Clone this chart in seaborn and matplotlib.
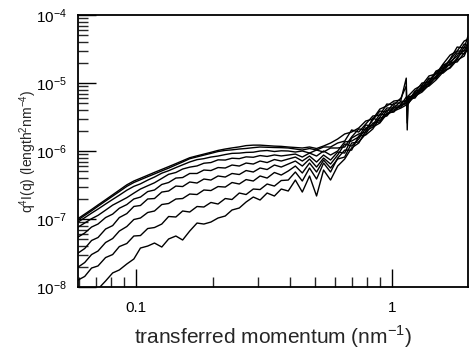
import numpy as np
import pandas as pd
import seaborn as sns
import matplotlib.pyplot as plt
from matplotlib.ticker import LogLocator, NullFormatter

# scattering vector (nm^-1)
q = [0.059, 0.063, 0.067, 0.071, 0.076, 0.081, 0.086, 0.092, 0.098, 0.104,
     0.111, 0.118, 0.126, 0.134, 0.143, 0.152, 0.162, 0.173, 0.184, 0.196,
     0.209, 0.223, 0.237, 0.253, 0.269, 0.287, 0.305, 0.325, 0.347, 0.369,
     0.393, 0.419, 0.446, 0.476, 0.507, 0.540, 0.575, 0.613, 0.653, 0.695,
     0.741, 0.789, 0.841, 0.896, 0.954, 1.016, 1.083, 1.136, 1.146, 1.156,
     1.229, 1.309, 1.394, 1.485, 1.582, 1.686, 1.796, 1.913, 1.980]

# q^4 I(q), in units of 1e-7
c1 = [1.00, 1.18, 1.38, 1.61, 1.92, 2.27, 2.66, 3.18, 3.62, 3.97,
      4.40, 4.85, 5.36, 5.89, 6.52, 7.19, 7.96, 8.49, 9.00, 9.56,
      10.2, 10.7, 11.1, 11.5, 12.0, 12.2, 12.2, 12.0, 11.8, 11.7,
      11.45, 11.26, 11.07, 11.45, 10.88, 11.84, 13.11, 15.01,
      17.8, 19.0, 21.8, 27.6, 29.5, 41.4, 45.9, 54.3, 56.2, 118, 20.4,
      64.3, 81.5, 93.3, 127, 136, 190, 258, 295, 414, 443]
c2 = [0.953, 1.13, 1.32, 1.54, 1.84, 2.17, 2.53, 3.02, 3.44, 3.78,
      4.19, 4.60, 5.10, 5.60, 6.24, 6.90, 7.70, 8.20, 8.70, 9.23,
      9.83, 10.2, 10.4, 10.7, 10.9, 11.2, 11.45, 11.35, 11.25, 11.2,
      11.07, 10.70, 10.34, 10.88, 10.34, 11.45, 11.45, 13.11,
      14.0, 20.4, 19.0, 24.9, 32.7, 33.8, 49.1, 47.5, 60.1, 90.2, 25.8,
      56.2, 73.6, 100, 103, 150, 166, 225, 338, 327, 491]
c3 = [0.89, 1.045, 1.22, 1.40, 1.66, 1.94, 2.24, 2.65, 3.02, 3.29,
      3.73, 4.14, 4.72, 5.13, 5.70, 6.26, 6.90, 7.46, 7.72, 8.15,
      8.43, 8.87, 9.23, 9.30, 9.53, 9.60, 10.0, 10.17, 9.83, 10.07,
      10.0, 9.66, 10.0, 9.33, 10.34, 9.66, 11.07, 11.07,
      11.45, 16.1, 21.1, 20.4, 28.5, 38.7, 37.4, 50.8, 50.8, 56.2, 62.2,
      62.2, 66.5, 87.2, 115, 118, 184, 204, 249, 374, 350]
c4 = [0.752, 0.873, 1.01, 1.13, 1.35, 1.60, 1.80, 2.06, 2.40, 2.76,
      3.08, 3.41, 3.95, 4.54, 4.83, 5.43, 5.79, 6.03, 6.61, 6.76,
      7.41, 7.36, 7.83, 7.72, 8.20, 8.09, 8.57, 8.32, 8.75, 8.46,
      8.72, 9.02, 8.15, 9.33, 8.43, 10.0, 8.72, 10.0,
      13.6, 14.0, 16.1, 24.1, 23.3, 31.6, 42.9, 42.9, 54.3, 52.5, 56.2,
      52.5, 76.2, 78.8, 107, 145, 155, 218, 295, 295, 400]
c5 = [0.536, 0.622, 0.762, 0.843, 1.05, 1.18, 1.44, 1.63, 1.97, 2.10,
      2.53, 2.67, 3.22, 3.44, 4.00, 4.07, 4.67, 4.67, 5.25, 5.16,
      5.71, 5.62, 6.22, 6.01, 6.65, 6.43, 7.12, 6.76, 7.49, 7.12,
      7.62, 8.15, 7.12, 8.43, 6.88, 8.72, 7.36, 9.66,
      9.33, 15.5, 17.8, 19.0, 30.5, 27.6, 40.0, 40.0, 47.5, 62.2, 58.1,
      54.3, 68.8, 90.2, 96.6, 127, 178, 184, 225, 338, 327]
c6 = [0.311, 0.368, 0.483, 0.534, 0.712, 0.80, 1.05, 1.20, 1.53, 1.58,
      1.97, 2.00, 2.49, 2.58, 3.05, 3.00, 3.50, 3.38, 3.87, 3.74,
      4.29, 4.14, 4.67, 4.51, 5.16, 4.91, 5.62, 5.34, 6.22, 5.81,
      6.43, 7.12, 6.01, 7.62, 5.81, 7.88, 6.43, 8.72,
      12.7, 11.8, 15.0, 21.8, 24.1, 35.0, 33.8, 45.9, 45.9, 50.8, 54.3,
      60.1, 62.2, 81.5, 118, 115, 161, 190, 276, 267, 362]
c7 = [0.193, 0.229, 0.300, 0.338, 0.451, 0.516, 0.665, 0.775, 0.983, 1.034,
      1.246, 1.311, 1.633, 1.69, 1.967, 2.00, 2.33, 2.29, 2.67, 2.62,
      3.00, 2.95, 3.44, 3.27, 3.80, 3.62, 4.29, 4.00, 4.83, 4.43,
      5.08, 6.01, 4.75, 6.65, 4.91, 7.36, 5.62, 7.62,
      8.15, 13.1, 13.6, 17.8, 25.8, 26.7, 36.2, 37.4, 49.1, 49.1, 52.5,
      49.1, 71.2, 76.2, 100, 140, 140, 172, 233, 305, 295]
c8 = [0.125, 0.143, 0.190, 0.204, 0.271, 0.300, 0.393, 0.436, 0.562, 0.571,
      0.724, 0.749, 0.843, 1.088, 1.07, 1.311, 1.267, 1.526, 1.501, 1.75,
      1.661, 2.00, 1.935, 2.41, 2.29, 2.76, 2.71, 3.27, 3.05, 3.68,
      3.74, 4.91, 3.62, 5.62, 3.87, 6.65, 4.91, 7.88,
      10.3, 10.3, 16.6, 17.2, 21.1, 30.5, 32.7, 42.9, 44.3, 54.3, 50.8,
      50.8, 64.3, 73.6, 93.3, 123, 150, 166, 218, 249, 338]
c9 = [0.0491, 0.0622, 0.0736, 0.0933, 0.1225, 0.161, 0.178, 0.218, 0.258, 0.374,
      0.400, 0.443, 0.387, 0.508, 0.562, 0.491, 0.665, 0.872, 0.843, 0.902,
      1.034, 1.107, 1.356, 1.451, 1.777, 2.105, 1.902, 2.41, 2.177, 2.759,
      2.58, 3.74, 2.49, 4.29, 2.18, 5.25, 3.74, 6.01,
      7.62, 11.1, 13.1, 19.7, 22.5, 25.8, 35.0, 38.7, 42.9, 47.5, 49.1,
      58.1, 60.1, 84.3, 90.2, 111, 145, 197, 204, 276, 305]

curves = [c1, c2, c3, c4, c5, c6, c7, c8, c9]

yticks = [1e-8, 1e-7, 1e-6, 1e-5, 1e-4]
ytick_labels = [r"$\mathregular{10^{-8}}$", r"$\mathregular{10^{-7}}$",
                r"$\mathregular{10^{-6}}$", r"$\mathregular{10^{-5}}$",
                r"$\mathregular{10^{-4}}$"]
xticks = [0.1, 1]
xtick_labels = ["0.1", "1"]

sns.set_style("ticks")
plt.rcParams['font.family'] = ['Liberation Sans', 'DejaVu Sans']
plt.rcParams['mathtext.fontset'] = 'custom'
plt.rcParams['mathtext.rm'] = 'Liberation Sans'

df = pd.DataFrame({
    "q": q * len(curves),
    "I": np.concatenate([np.array(c) * 1e-7 for c in curves]),
    "run": np.repeat(np.arange(len(curves)), len(q)),
})

fig = plt.figure(figsize=(4.69, 3.6), dpi=100)
ax = fig.add_axes([0.1663, 0.2028, 0.8316, 0.7555])
sns.lineplot(data=df, x="q", y="I", hue="run", palette=["black"] * len(curves),
             sort=False, legend=False, linewidth=1.0, ax=ax)

ax.set_xscale("log")
ax.set_yscale("log")
ax.set_xlim(0.0593, 1.98)
ax.set_ylim(1e-8, 1e-4)

ax.set_xticks(xticks, xtick_labels)
ax.xaxis.set_minor_locator(LogLocator(base=10, subs=np.arange(2, 10)))
ax.xaxis.set_minor_formatter(NullFormatter())
ax.set_yticks(yticks, ytick_labels)
ax.yaxis.set_minor_locator(LogLocator(base=10, subs=np.arange(2, 10)))
ax.yaxis.set_minor_formatter(NullFormatter())

ax.tick_params(which="major", direction="in", length=13, width=1.0,
               labelsize=11, colors="black")
ax.tick_params(axis="x", which="major", pad=10)
ax.tick_params(axis="y", which="major", pad=8)
ax.tick_params(which="minor", direction="in", length=7, width=1.0)
for s in ax.spines.values():
    s.set_linewidth(1.3)
    s.set_color("black")

ax.set_xlabel("transferred momentum (nm$^{-1}$)", fontsize=15, labelpad=6)
ax.set_ylabel("q$^4$I(q) (length$^2$nm$^{-4}$)", fontsize=10)
ax.yaxis.set_label_coords(-0.10, 0.5)

fig.savefig("out.png", dpi=100)
